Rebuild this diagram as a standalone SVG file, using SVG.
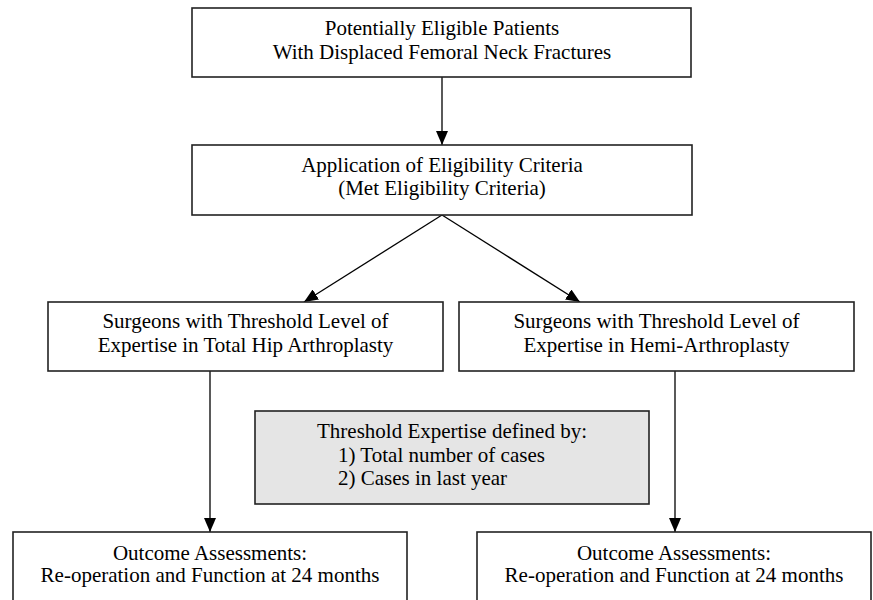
<svg xmlns="http://www.w3.org/2000/svg" width="873" height="600" viewBox="0 0 873 600">
<defs>
<marker id="arr" markerUnits="userSpaceOnUse" markerWidth="14" markerHeight="12" refX="14" refY="6" orient="auto">
<path d="M0,0 L14,6 L0,12 z" fill="#000"/>
</marker>
<style>
.box{fill:#fff;stroke:#222;stroke-width:1.6}
.gray{fill:#e5e5e5;stroke:#222;stroke-width:1.6}
.t{font-family:"Liberation Serif","Times New Roman",serif;font-size:21px;fill:#000;text-anchor:middle}
.tl{font-family:"Liberation Serif","Times New Roman",serif;font-size:21px;fill:#000}
.c{stroke:#000;stroke-width:1.3;fill:none;marker-end:url(#arr)}
</style>
</defs>
<rect width="873" height="600" fill="#fff"/>
<g id="connectors">
<line class="c" x1="442" y1="77" x2="442" y2="145"/>
<line class="c" x1="442" y1="215" x2="304" y2="302"/>
<line class="c" x1="442" y1="215" x2="580" y2="302"/>
<line class="c" x1="210" y1="371" x2="210" y2="532"/>
<line class="c" x1="675" y1="371" x2="675" y2="532"/>
</g>
<g id="n1">
<rect class="box" x="192" y="8" width="499" height="69"/>
<text class="t" x="442" y="35">Potentially Eligible Patients</text>
<text class="t" x="442" y="59">With Displaced Femoral Neck Fractures</text>
</g>
<g id="n2">
<rect class="box" x="192" y="145" width="500" height="70"/>
<text class="t" x="442" y="172">Application of Eligibility Criteria</text>
<text class="t" x="442" y="195">(Met Eligibility Criteria)</text>
</g>
<g id="n3">
<rect class="box" x="48" y="302" width="395" height="69"/>
<text class="t" x="245.5" y="328">Surgeons with Threshold Level of</text>
<text class="t" x="245.5" y="352">Expertise in Total Hip Arthroplasty</text>
</g>
<g id="n4">
<rect class="box" x="459" y="302" width="395" height="69"/>
<text class="t" x="656.5" y="328">Surgeons with Threshold Level of</text>
<text class="t" x="656.5" y="352">Expertise in Hemi-Arthroplasty</text>
</g>
<g id="n5">
<rect class="gray" x="255" y="411" width="394" height="93"/>
<text class="t" x="452" y="438">Threshold Expertise defined by:</text>
<text class="tl" x="338" y="462">1) Total number of cases</text>
<text class="tl" x="338" y="485">2) Cases in last year</text>
</g>
<g id="n6">
<rect class="box" x="13" y="532" width="394" height="80"/>
<text class="t" x="210" y="560">Outcome Assessments:</text>
<text class="t" x="210" y="582">Re-operation and Function at 24 months</text>
</g>
<g id="n7">
<rect class="box" x="477" y="532" width="394" height="80"/>
<text class="t" x="674" y="560">Outcome Assessments:</text>
<text class="t" x="674" y="582">Re-operation and Function at 24 months</text>
</g>
</svg>
